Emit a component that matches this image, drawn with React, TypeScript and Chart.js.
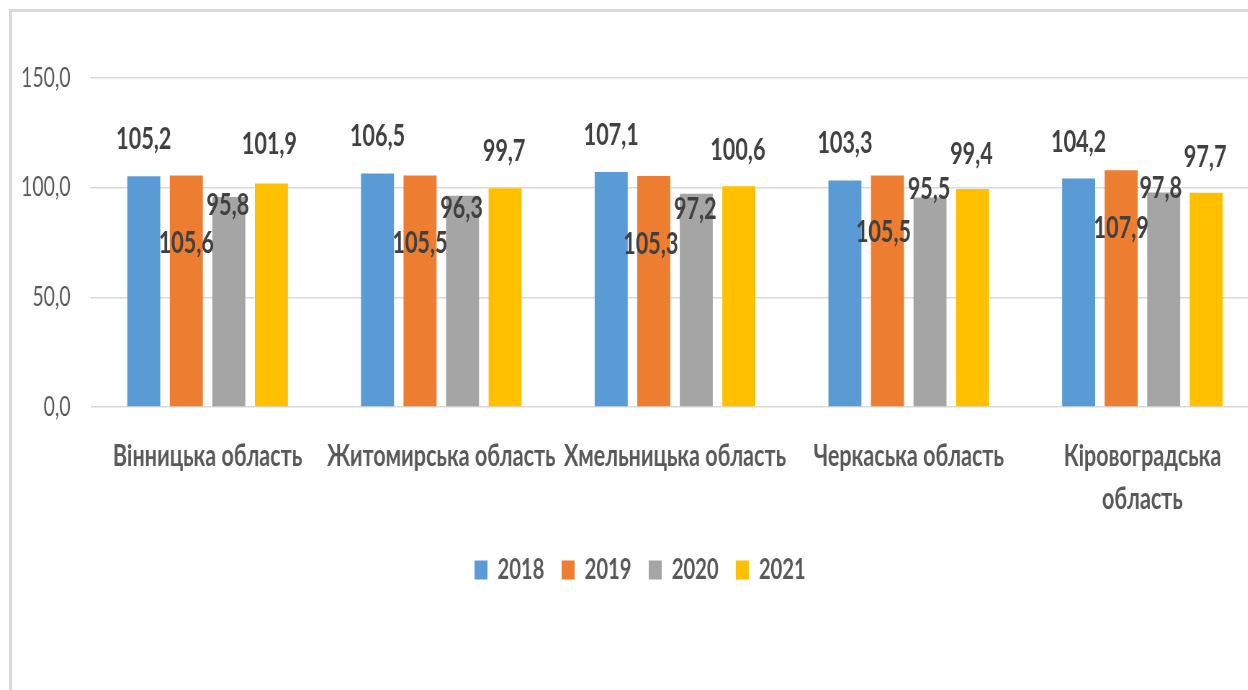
import React, { useEffect, useRef } from "react";
import { Chart, registerables } from "chart.js";

Chart.register(...registerables);

// ---------- data ----------
const categories: (string | string[])[] = [
  "Вінницька область",
  "Житомирська область",
  "Хмельницька область",
  "Черкаська область",
  ["Кіровоградська", "область"],
];
const seriesNames = ["2018", "2019", "2020", "2021"];
const values2018 = [105.2, 106.5, 107.1, 103.3, 104.2];
const values2019 = [105.6, 105.5, 105.3, 105.5, 107.9];
const values2020 = [95.8, 96.3, 97.2, 95.5, 97.8];
const values2021 = [101.9, 99.7, 100.6, 99.4, 97.7];
const yTickValues = [0, 50, 100, 150];

// ---------- styling / layout ----------
const seriesColors = ["#5b9bd5", "#ed7d31", "#a5a5a5", "#ffc000"];
// manual label placement (page px) relative to bar top / bar centre, as in the source
const labelShiftY = [
  [-37, -37, -37, -37, -36],
  [68, 68, 68, 57, 58],
  [8, 13, 16, -8, -4],
  [-39, -37, -36, -35, -35],
];
const labelShiftX = [
  [0, 0, 0, 0, 0],
  [0, 0, -3, -4, 0],
  [-1, -1, -1, -1, -3],
  [-2, -1, -1, -1, -1],
];

const SX = 0.72; // horizontal squeeze of the whole picture
const CANVAS_W = 1792;
const CANVAS_H = 690;
const FONT = 'Lato, "Open Sans", "DejaVu Sans", sans-serif';

const fmt = (v: number) => v.toFixed(1).replace(".", ",");

const valueLabelPlugin = {
  id: "valueLabels",
  afterDatasetsDraw(chart: any) {
    const ctx = chart.ctx;
    ctx.save();
    ctx.font = `bold 30px ${FONT}`;
    ctx.fillStyle = "#404040";
    ctx.textAlign = "center";
    ctx.textBaseline = "middle";
    chart.data.datasets.forEach((ds: any, i: number) => {
      const meta = chart.getDatasetMeta(i);
      meta.data.forEach((bar: any, j: number) => {
        const v = ds.data[j] as number;
        ctx.fillText(
          fmt(v),
          bar.x + labelShiftX[i][j] / SX,
          bar.y + labelShiftY[i][j]
        );
      });
    });
    ctx.restore();
  },
};

export default function App() {
  const canvasRef = useRef<HTMLCanvasElement | null>(null);

  useEffect(() => {
    if (!canvasRef.current) return;
    const allValues = [values2018, values2019, values2020, values2021];
    const chart = new Chart(canvasRef.current, {
      type: "bar",
      data: {
        labels: categories as any,
        datasets: seriesNames.map((name, i) => ({
          label: name,
          data: allValues[i],
          backgroundColor: seriesColors[i],
          borderWidth: 0,
          categoryPercentage: 0.728,
          barPercentage: 0.776,
        })),
      },
      options: {
        animation: false,
        responsive: false,
        maintainAspectRatio: false,
        devicePixelRatio: 1,
        layout: { padding: { left: 29, right: 43, top: 78, bottom: 96 } },
        plugins: {
          tooltip: { enabled: false },
          legend: {
            position: "bottom",
            labels: {
              boxWidth: 18,
              boxHeight: 19,
              padding: 24,
              color: "#595959",
              font: { family: FONT, size: 28, weight: "bold" },
            },
          },
        },
        scales: {
          x: {
            grid: { display: false, drawTicks: false },
            border: { display: false },
            ticks: {
              autoSkip: false,
              maxRotation: 0,
              minRotation: 0,
              padding: 28,
              color: "#595959",
              font: { family: FONT, size: 30, weight: "bold", lineHeight: 1.433 },
            },
            afterFit: (s: any) => {
              s.height = 125;
            },
          },
          y: {
            min: 0,
            max: 150,
            grid: { color: "#d9d9d9", lineWidth: 1.5, drawTicks: false },
            border: { display: false },
            ticks: {
              padding: 28,
              color: "#595959",
              font: { family: FONT, size: 27 },
              callback: (v: any) => fmt(Number(v)),
            },
            afterBuildTicks: (s: any) => {
              s.ticks = yTickValues.map((v) => ({ value: v }));
            },
            afterFit: (s: any) => {
              s.width = 97;
            },
          },
        },
      },
      plugins: [valueLabelPlugin],
    });
    return () => chart.destroy();
  }, []);

  return (
    <div
      style={{
        position: "fixed",
        left: 0,
        top: 0,
        width: 1248,
        height: 690,
        overflow: "hidden",
        background: "#ffffff",
      }}
    >
      <div
        style={{
          position: "absolute",
          left: 9,
          top: 9,
          width: 1400,
          height: 800,
          borderLeft: "3px solid #dadada",
          borderTop: "3px solid #dadada",
        }}
      />
      <canvas
        ref={canvasRef}
        width={CANVAS_W}
        height={CANVAS_H}
        style={{
          position: "absolute",
          left: 0,
          top: 0,
          transform: `scaleX(${SX})`,
          transformOrigin: "0 0",
        }}
      />
    </div>
  );
}
